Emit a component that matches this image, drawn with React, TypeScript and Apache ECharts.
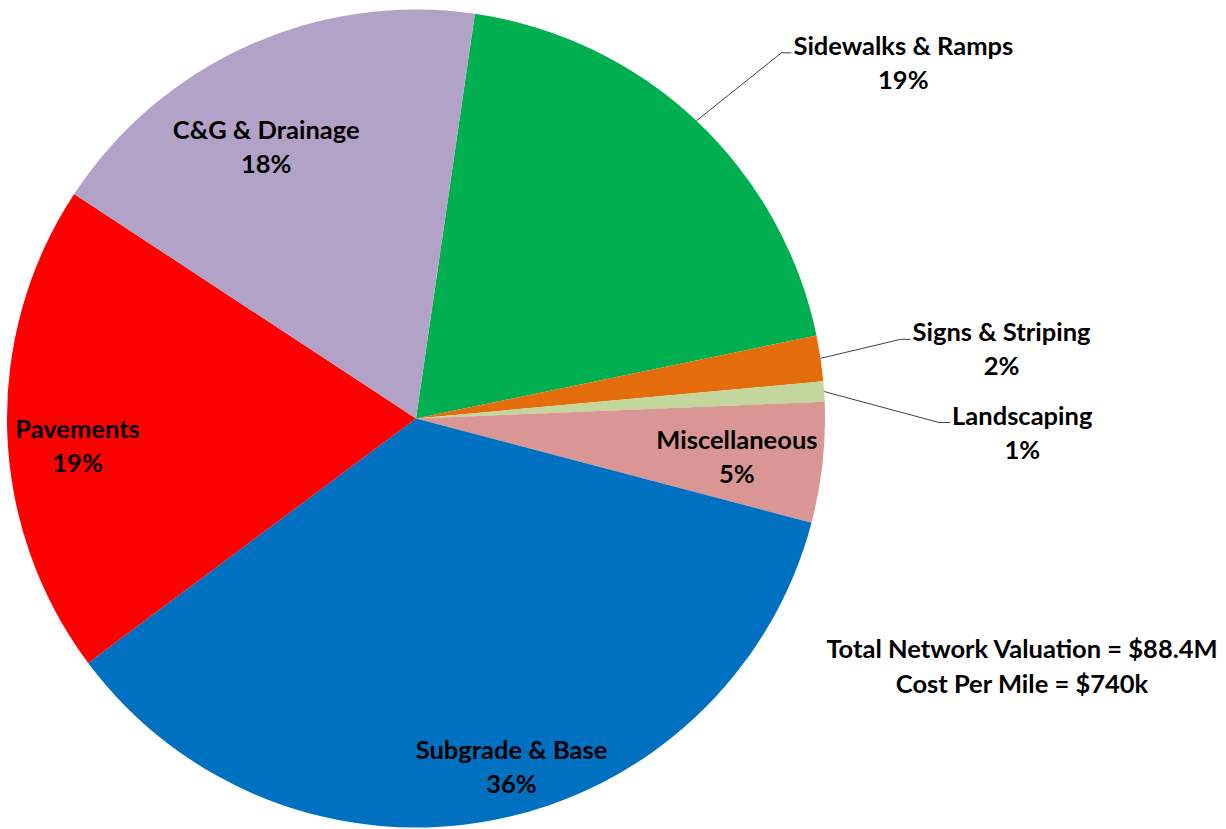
import React, { useEffect, useRef } from 'react';
import * as echarts from 'echarts';

const categories = ['Sidewalks & Ramps', 'Signs & Striping', 'Landscaping', 'Miscellaneous', 'Subgrade & Base', 'Pavements', 'C&G & Drainage'];
const shares = [19.45, 1.8, 0.8, 4.75, 35.7, 19.45, 18.05];
const colors = ['#00B050', '#E46C0A', '#C3D69B', '#D99694', '#0070C0', '#FF0000', '#B3A2C7'];
const outsideLabels = ['Sidewalks & Ramps', 'Signs & Striping', 'Landscaping'];
const noteLines = ['Total Network Valuation = $88.4M', 'Cost Per Mile = $740k'];

const CX = 416;
const CY = 418.5;
const R = 409;
const FONT = 'Lato, "Noto Sans", sans-serif';
const FS = 25.5;
const LH = 34;

// radius fraction, angular shift (deg, clockwise) for inside labels
const insidePlacement: Record<string, [number, number]> = {
  'Miscellaneous': [0.79, 0.5],
  'Subgrade & Base': [0.88, -4.4],
  'Pavements': [0.83, -2.7],
  'C&G & Drainage': [0.76, -4.6],
};
// leader line: dx, dy of first segment, horizontal run
const outsidePlacement: Record<string, [number, number, number]> = {
  'Sidewalks & Ramps': [85, -68, 10],
  'Signs & Striping': [80, -19, 10],
  'Landscaping': [115, 31, 11],
};

export default function App() {
  const ref = useRef<HTMLDivElement>(null);
  useEffect(() => {
    if (!ref.current) return;
    const chart = echarts.init(ref.current, undefined, { renderer: 'svg' });
    const data = categories.map((name, i) => {
      const outside = outsideLabels.includes(name);
      return {
        name,
        value: shares[i],
        itemStyle: { color: colors[i] },
        label: { position: outside ? 'outside' : 'inside' },
        labelLine: { show: outside },
      };
    });
    chart.setOption({
      animation: false,
      backgroundColor: '#ffffff',
      series: [
        {
          type: 'pie',
          center: [CX, CY],
          radius: R,
          startAngle: 81.72,
          clockwise: true,
          avoidLabelOverlap: false,
          itemStyle: { borderWidth: 0 },
          emphasis: { disabled: true },
          data,
          label: {
            show: true,
            color: '#000',
            fontFamily: FONT,
            fontSize: FS,
            fontWeight: 'bold',
            lineHeight: LH,
            formatter: (p: any) => `{n|${p.name}}\n{n|${Math.round(p.percent)}%}`,
            rich: {
              n: { align: 'center', fontFamily: FONT, fontSize: FS, fontWeight: 'bold', lineHeight: LH, color: '#000' },
            },
          },
          labelLine: { show: true, lineStyle: { color: '#404040', width: 1 }, length: 20, length2: 10 },
          labelLayout: (params: any) => {
            const name = categories[params.dataIndex];
            if (insidePlacement[name]) {
              const [f, shift] = insidePlacement[name];
              const lr = params.labelRect;
              const lx = lr.x + lr.width / 2;
              const ly = lr.y + lr.height / 2;
              const a = Math.atan2(ly - CY, lx - CX) + (shift * Math.PI) / 180;
              return {
                x: CX + f * R * Math.cos(a),
                y: CY + f * R * Math.sin(a),
                align: 'center',
                verticalAlign: 'middle',
              };
            }
            if (outsidePlacement[name] && params.labelLinePoints) {
              const [ddx, ddy, run] = outsidePlacement[name];
              const p0 = params.labelLinePoints[0];
              const p1 = [p0[0] + ddx, p0[1] + ddy];
              const p2 = [p1[0] + run, p1[1]];
              return {
                x: p2[0] + 2,
                y: p2[1] - 8 - LH / 2,
                align: 'left',
                verticalAlign: 'top',
                labelLinePoints: [p0, p1, p2],
              };
            }
            return {};
          },
        },
      ],
      graphic: [
        {
          type: 'text',
          x: 1022,
          y: 630,
          style: {
            text: noteLines.join('\n'),
            align: 'center',
            verticalAlign: 'top',
            fontFamily: FONT,
            fontSize: FS,
            fontWeight: 'bold',
            lineHeight: 35,
            fill: '#000',
          },
        },
      ],
    });
    return () => chart.dispose();
  }, []);
  return <div ref={ref} style={{ position: 'fixed', left: 0, top: 0, width: 1226, height: 829 }} />;
}
